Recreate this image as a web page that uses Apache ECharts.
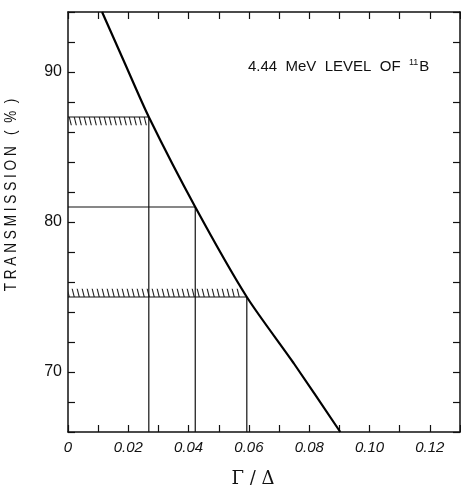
<!DOCTYPE html>
<html><head><meta charset="utf-8">
<script src="https://cdn.jsdelivr.net/npm/echarts@6/dist/echarts.min.js"></script>
<style>html,body{margin:0;padding:0;background:#fff;overflow:hidden}#c{width:461px;height:485px}</style>
</head><body><div id="c"></div>
<script>
// Curve: transmission (%) vs Gamma/Delta
const curveX = [0.0113, 0.0188, 0.0268, 0.0422, 0.0593, 0.0748, 0.0903];
const curveY = [94, 90.6, 87, 81, 75, 70.6, 66];
// Construction lines (levels and their Gamma/Delta)
const levelY = [87, 81, 75];
const levelX = [0.0268, 0.0422, 0.0593];
// Hatched error bands: [xStart, xEnd, yLow, yHigh]
const hatchBands = [[0, 0.0268, 86.45, 87], [0, 0.057, 75, 75.55]];
const xMin = 0, xMax = 0.13, xStep = 0.01;
const yMin = 66, yMax = 94, yStep = 2;

const hatch = document.createElement('canvas');
hatch.width = 5; hatch.height = 20;
const hc = hatch.getContext('2d');
hc.strokeStyle = '#222'; hc.lineWidth = 1.1;
[-10, -5, 0, 5].forEach(a => { hc.beginPath(); hc.moveTo(a, 0); hc.lineTo(a + 5, 20); hc.stroke(); });

const chart = echarts.init(document.getElementById('c'));
const font = '"Liberation Sans", Arial, sans-serif';
function xAx(pos, showLabel) {
  return {
    type: 'value', position: pos, min: xMin, max: xMax, interval: xStep,
    axisLine: {show: true, onZero: false, lineStyle: {color: '#111', width: 1.5}},
    axisTick: {show: true, inside: true, length: 7, lineStyle: {color: '#111', width: 1.2}},
    splitLine: {show: false},
    axisLabel: {show: showLabel, margin: 8, fontFamily: font, fontStyle: 'italic', fontSize: 15, color: '#111',
      formatter: v => { const k = Math.round(v * 100); if (k % 2) return ''; return k === 0 ? '0' : v.toFixed(2); }}
  };
}
function yAx(pos, showLabel) {
  return {
    type: 'value', position: pos, min: yMin, max: yMax, interval: yStep,
    axisLine: {show: true, onZero: false, lineStyle: {color: '#111', width: 1.5}},
    axisTick: {show: true, inside: true, length: 7, lineStyle: {color: '#111', width: 1.2}},
    splitLine: {show: false},
    axisLabel: {show: showLabel, margin: 6, fontFamily: font, fontSize: 16, color: '#111',
      formatter: v => (Math.round(v) % 10 === 0 ? String(Math.round(v)) : '')}
  };
}
const xa = [xAx('bottom', true), xAx('top', false)];
xa[0].name = 'Γ / Δ';
xa[0].nameLocation = 'middle';
xa[0].nameGap = 38;
xa[0].nameTextStyle = {fontFamily: '"DejaVu Serif", "Liberation Serif", serif', fontSize: 18, color: '#111', padding: [0, 22, 0, 0]};
const series = [{
  type: 'line', data: curveX.map((x, i) => [x, curveY[i]]), smooth: 0.25, symbol: 'none',
  lineStyle: {color: '#000', width: 2.2}, z: 5
}];
levelY.forEach((y, i) => {
  series.push({
    type: 'line', data: [[0, y], [levelX[i], y], [levelX[i], yMin]], symbol: 'none',
    lineStyle: {color: '#111', width: 1.2}, z: 4,
    markArea: i === 0 ? {
      silent: true,
      itemStyle: {color: {image: hatch, repeat: 'repeat'}, opacity: 1},
      data: hatchBands.map(b => [{coord: [b[0], b[3]]}, {coord: [b[1], b[2]]}])
    } : undefined
  });
});
chart.setOption({
  animation: false,
  backgroundColor: '#fff',
  grid: {left: 68, right: 1, top: 12, bottom: 53, containLabel: false, outerBoundsMode: 'none'},
  xAxis: xa,
  yAxis: [yAx('left', true), yAx('right', false)],
  series: series,
  graphic: [
    {type: 'text', left: 248, top: 58, style: {
      rich: {a: {fontFamily: font, fontSize: 15, fill: '#111'}, s: {fontFamily: font, fontSize: 9, fill: '#111', verticalAlign: 'top', padding: [0, 1, 8, 0]}},
      text: '{a|4.44  MeV  LEVEL  OF  }{s|11}{a|B}'
    }},
    {type: 'text', x: 11, y: 195, rotation: Math.PI / 2, scaleX: 0.8, style: {
      text: 'T R A N S M I S S I O N   (  %  )', fontFamily: font, fontSize: 17, fill: '#111',
      align: 'center', verticalAlign: 'middle'
    }}
  ]
});
</script></body></html>
